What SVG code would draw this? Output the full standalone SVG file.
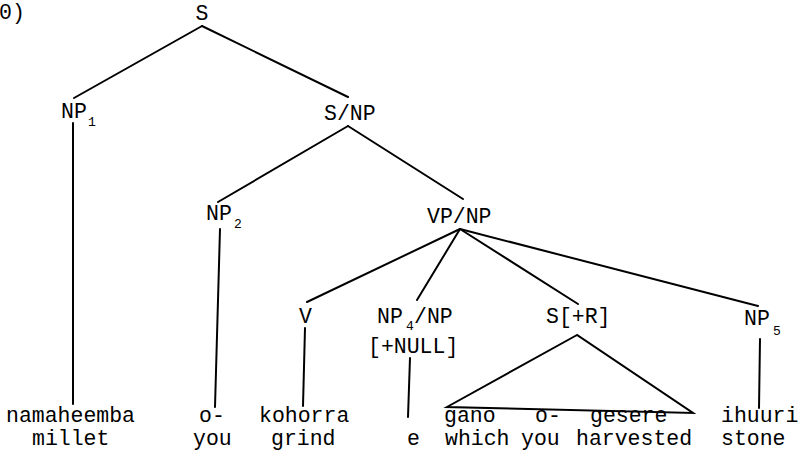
<svg xmlns="http://www.w3.org/2000/svg" width="806" height="458" viewBox="0 0 806 458">
<style>
text{font-family:"Liberation Mono","Courier New",monospace;font-size:21.5px;fill:#000}
.sub{font-size:13px}
.e{stroke:#000;stroke-width:2;fill:none;stroke-linecap:round}
</style>
<rect width="806" height="458" fill="#fff"/>
<text x="-1" y="19">0)</text>
<g id="connectors">
<line class="e" x1="202" y1="26" x2="74" y2="98"/>
<line class="e" x1="202" y1="26" x2="348" y2="97"/>
<line class="e" x1="73" y1="123" x2="73" y2="404"/>
<line class="e" x1="348" y1="126" x2="218" y2="202"/>
<line class="e" x1="348" y1="126" x2="463" y2="199"/>
<line class="e" x1="220" y1="229" x2="215" y2="407"/>
<line class="e" x1="460" y1="229" x2="307" y2="302"/>
<line class="e" x1="460" y1="229" x2="417" y2="300"/>
<line class="e" x1="460" y1="229" x2="578" y2="304"/>
<line class="e" x1="460" y1="229" x2="758" y2="306"/>
<line class="e" x1="305" y1="328" x2="303" y2="406"/>
<line class="e" x1="410" y1="358" x2="408" y2="417"/>
<line class="e" x1="760" y1="339" x2="759" y2="408"/>
<polygon class="e" points="577,335 447,407 693,413"/>
</g>
<g id="S"><text x="202" y="20" text-anchor="middle">S</text></g>
<g id="NP1"><text x="61" y="118">NP</text><text class="sub" x="88" y="126">1</text></g>
<g id="SNP"><text x="324" y="120">S/NP</text></g>
<g id="NP2"><text x="206" y="220">NP</text><text class="sub" x="234" y="228">2</text></g>
<g id="VPNP"><text x="427" y="223">VP/NP</text></g>
<g id="V"><text x="299" y="323">V</text></g>
<g id="NP4"><text x="377" y="323">NP</text><text class="sub" x="406" y="330">4</text><text x="414" y="323">/NP</text><text x="368" y="353">[+NULL]</text></g>
<g id="SR"><text x="546" y="323">S[+R]</text></g>
<g id="NP5"><text x="744" y="325">NP</text><text class="sub" x="773" y="335">5</text></g>
<g id="words">
<text x="6" y="422">namaheemba</text>
<text x="32" y="445">millet</text>
<text x="199" y="422">o-</text>
<text x="193" y="445">you</text>
<text x="259" y="422">kohorra</text>
<text x="271" y="445">grind</text>
<text x="407" y="445">e</text>
<text x="444" y="422">gano</text>
<text x="535" y="422">o-</text>
<text x="590" y="422">gesere</text>
<text x="445" y="445">which</text>
<text x="521" y="445">you</text>
<text x="576" y="445">harvested</text>
<text x="721" y="422">ihuuri</text>
<text x="721" y="445">stone</text>
</g>
</svg>
